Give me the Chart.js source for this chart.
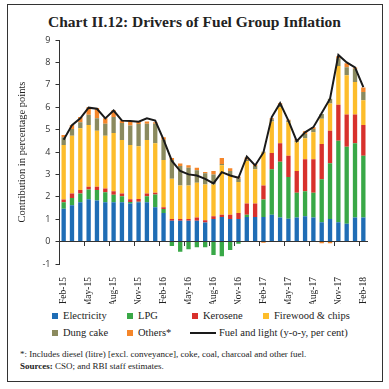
<!DOCTYPE html>
<html>
<head>
<meta charset="utf-8">
<script src="https://cdn.jsdelivr.net/npm/chart.js@4.4.1/dist/chart.umd.min.js"></script>
<style>
    body { margin: 0; background: #fff; }
    #frame { position: absolute; left: 7px; top: 4px; width: 374px; height: 376px; border: 1px solid #333; }
    #title { position: absolute; left: 0; top: 13px; width: 389px; text-align: center;
             font: bold 15.5px "Liberation Serif", serif; color: #222; }
    #chartBox { position: absolute; left: 0; top: 24px; }
    .lg { position: absolute; font: 10.5px/12px "Liberation Serif", serif; color: #222; white-space: nowrap; }
    .sw { position: absolute; width: 6px; height: 6px; }
    .ln { position: absolute; width: 26px; height: 2px; background: #1a1a1a; }
    .note { position: absolute; left: 20px; font: 9px/11px "Liberation Serif", serif; color: #222; white-space: nowrap; }
</style>
</head>
<body>
<div id="frame"></div>
<div id="title">Chart II.12: Drivers of Fuel Group Inflation</div>
<div id="chartBox"><canvas id="myChart" width="389" height="280"></canvas></div>
<div id="legend"></div>
<div class="note" style="top:349px">*: Includes diesel (litre) [excl. conveyance], coke, coal, charcoal and other fuel.</div>
<div class="note" style="top:361px"><b>Sources:</b> CSO; and RBI staff estimates.</div>
<script>
const months = ["Feb-15","Mar-15","Apr-15","May-15","Jun-15","Jul-15","Aug-15","Sep-15","Oct-15","Nov-15","Dec-15","Jan-16",
    "Feb-16","Mar-16","Apr-16","May-16","Jun-16","Jul-16","Aug-16","Sep-16","Oct-16","Nov-16","Dec-16","Jan-17",
    "Feb-17","Mar-17","Apr-17","May-17","Jun-17","Jul-17","Aug-17","Sep-17","Oct-17","Nov-17","Dec-17","Jan-18","Feb-18"]

const electricity = [1.47,1.62,1.76,1.89,1.83,1.76,1.76,1.76,1.70,1.76,1.76,1.53,1.28,0.93,0.93,0.93,0.93,0.85,1.01,1.10,1.01,1.01,1.10,1.10,1.10,1.20,1.08,1.02,1.08,1.13,1.08,0.86,1.01,0.86,0.80,1.08,1.08]
const lpg = [0.29,0.33,0.39,0.44,0.47,0.44,0.33,0.27,0.07,0.02,0.27,0.57,0.18,-0.20,-0.45,-0.34,-0.25,-0.25,-0.60,-0.65,-0.37,-0.10,0.10,0.00,0.78,2.03,2.49,1.86,1.10,1.12,1.10,1.92,2.49,3.64,3.43,3.31,2.75]
const kerosene = [0.12,0.20,0.15,0.12,0.15,0.17,0.16,0.12,0.12,0.12,0.12,0.08,0.07,0.08,0.08,0.08,0.15,0.10,0.12,0.10,0.19,0.27,0.50,0.60,0.63,0.72,0.82,0.95,0.97,1.43,1.50,1.58,1.45,1.61,1.44,1.28,1.38]
const firewood = [2.43,2.58,2.76,2.76,2.50,2.36,2.60,2.39,2.42,2.36,2.39,2.21,2.11,1.80,1.50,1.50,1.55,1.60,1.42,2.21,1.76,1.38,1.90,1.53,1.47,1.41,1.61,1.50,1.28,0.93,1.20,1.12,1.21,1.73,1.76,1.46,1.10]
const dungCake = [0.35,0.30,0.27,0.45,0.56,0.53,0.71,0.75,0.87,0.99,0.72,0.87,0.91,0.83,0.87,0.79,0.55,0.50,0.45,0.05,0.19,0.16,0.05,0.15,0.03,0.09,0.12,0.06,0.07,0.19,0.15,0.22,0.22,0.34,0.35,0.59,0.37]
const others = [0.10,0.18,0.23,0.34,0.45,0.25,0.30,0.12,0.18,0.10,0.10,0.07,0.11,0.09,0.11,0.11,0.12,0.06,0.15,0.27,0.12,0.08,0.10,0.07,-0.05,0.06,0.06,0.05,0.08,0.13,0.08,-0.07,-0.07,0.10,0.18,0.05,0.20]
const fuelAndLight = [4.55,5.20,5.50,5.98,5.93,5.50,5.85,5.40,5.38,5.35,5.50,5.40,4.55,3.60,3.15,3.00,2.95,2.80,2.60,3.10,2.95,2.85,3.80,3.40,3.98,5.56,6.18,5.40,4.48,4.88,5.11,5.74,6.38,8.33,8.00,7.78,6.90]

const yTicks = [-1, 9]

function main() {
    const chart = buildChart("myChart")
    buildLegend(chart)
}

function barSet(label, data, color) {
    return { type: 'bar', label: label, data: data, backgroundColor: color, xAxisID: 'x',
             barPercentage: 0.52, categoryPercentage: 1, order: 1 }
}

function buildChart(canvasId) {
    const ctx = document.getElementById(canvasId)
    const serif = '"Liberation Serif", serif'

    return new Chart(ctx, {
        data: {
            labels: months,
            datasets: [
                barSet('Electricity', electricity, '#1f6db5'),
                barSet('LPG', lpg, '#39a847'),
                barSet('Kerosene', kerosene, '#d8312c'),
                barSet('Firewood & chips', firewood, '#fdbd2b'),
                barSet('Dung cake', dungCake, '#8b8a5e'),
                barSet('Others*', others, '#f5862a'),
                {
                    type: 'line', label: 'Fuel and light (y-o-y, per cent)', data: fuelAndLight,
                    borderColor: '#1a1a1a', borderWidth: 2, pointRadius: 0, tension: 0,
                    fill: false, stack: 'fuel', xAxisID: 'x', order: 0
                }
            ]
        },
        options: {
            responsive: false,
            animation: false,
            devicePixelRatio: 1,
            layout: { padding: { left: 10, right: 21.5, top: 16, bottom: 0 } },
            plugins: { legend: { display: false }, tooltip: { enabled: false } },
            scales: {
                x: {
                    type: 'category', stacked: true, offset: true, position: 'bottom',
                    grid: { display: false }, border: { display: false },
                    ticks: {
                        autoSkip: false, maxRotation: 90, minRotation: 90, padding: 5,
                        color: '#222', font: { family: serif, size: 9.5 },
                        callback: function (value, index) {
                            return index % 3 === 0 ? this.getLabelForValue(value) : ''
                        }
                    },
                    afterFit: function (scale) { scale.height = 40 }
                },
                x0: {
                    type: 'category', offset: true, position: { y: 0 },
                    grid: {
                        offset: true, drawOnChartArea: false, drawTicks: true, tickLength: 4,
                        color: function (c) { return c.index % 3 === 0 ? '#333' : 'rgba(0,0,0,0)' }
                    },
                    border: { display: true, color: '#333', width: 1 },
                    ticks: { display: false }
                },
                y: {
                    stacked: true, min: yTicks[0], max: yTicks[1],
                    grid: { drawOnChartArea: false, tickLength: 4, color: '#333' },
                    border: { color: '#333' },
                    ticks: { stepSize: 1, padding: 5, color: '#333', font: { family: '"Open Sans", sans-serif', size: 9 } },
                    title: {
                        display: true, text: 'Contribution in percentage points', color: '#222',
                        padding: { top: 6, bottom: 0 }, font: { family: serif, size: 10.5 }
                    },
                    afterFit: function (scale) { scale.width = 49.5 }
                }
            }
        }
    })
}

function buildLegend(chart) {
    const box = document.getElementById('legend')
    const places = [[52, 313], [127, 313], [192, 313], [263, 313], [52, 330], [127, 330], [190, 330]]
    chart.data.datasets.forEach(function (ds, i) {
        const [x, y] = places[i]
        let mark
        if (ds.type === 'line') {
            mark = document.createElement('div')
            mark.className = 'ln'
            mark.style.left = x + 'px'
            mark.style.top = (y + 2) + 'px'
        } else {
            mark = document.createElement('div')
            mark.className = 'sw'
            mark.style.background = ds.backgroundColor
            mark.style.left = x + 'px'
            mark.style.top = y + 'px'
        }
        box.appendChild(mark)
        const text = document.createElement('div')
        text.className = 'lg'
        text.textContent = ds.label
        text.style.left = (x + (ds.type === 'line' ? 29 : 11)) + 'px'
        text.style.top = (y - 3) + 'px'
        box.appendChild(text)
    })
}

document.addEventListener("DOMContentLoaded", main)
</script>
</body>
</html>
